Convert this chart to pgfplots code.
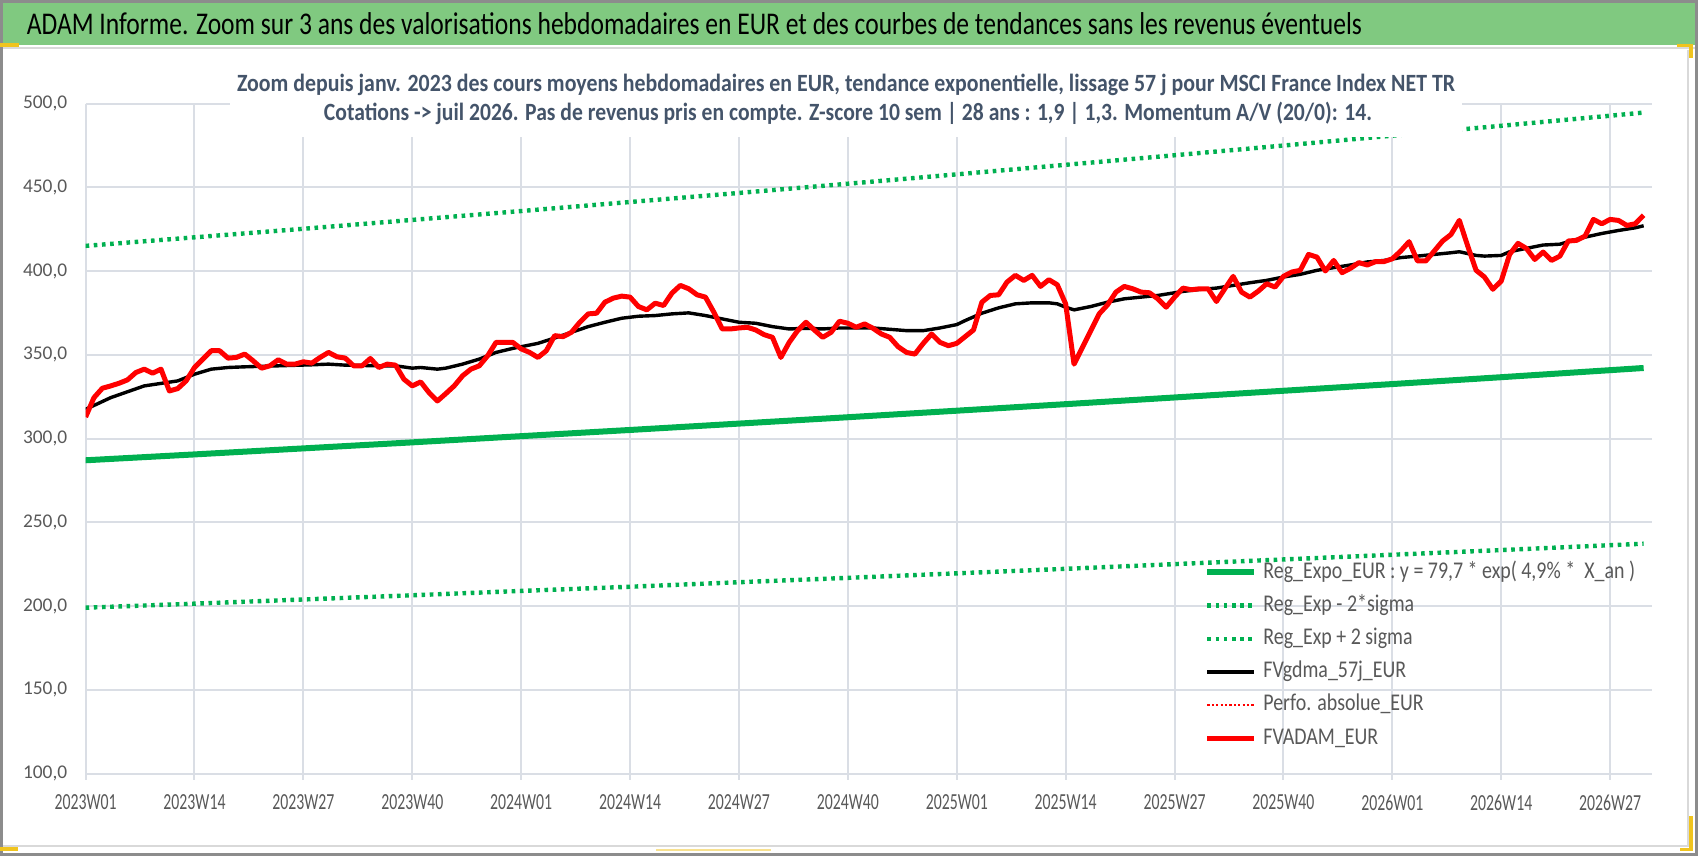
\documentclass[border=0pt]{standalone}
\usepackage{pgfplots}
\usepackage{pgfplotstable}
\pgfplotsset{compat=1.18}
\usepackage{fontspec}
\setmainfont{Carlito}
\usepackage{graphicx}
\definecolor{gridc}{RGB}{218,222,229}
\definecolor{tickc}{RGB}{89,89,89}
\definecolor{subc}{RGB}{68,84,106}
\definecolor{xlgreen}{RGB}{0,176,80}
\definecolor{barg}{RGB}{128,201,128}
\definecolor{framec}{RGB}{140,140,140}
\definecolor{lightc}{RGB}{217,217,217}
\definecolor{selc}{RGB}{240,196,30}

\pgfplotstableread{
x y
0 312.8
1 324.4
2 330
3 331.4
4 333
5 335
6 339.4
7 341.4
8 339
9 341.4
10 328.4
11 329.8
12 334.4
13 342.4
14 347.4
15 352.4
16 352.4
17 348
18 348.4
19 350.4
20 346.4
21 342
22 343.4
23 347
24 344.4
25 344.4
26 345.8
27 345
28 348.4
29 351.4
30 348.8
31 348
32 343.4
33 343.4
34 347.8
35 342.4
36 344.4
37 343.8
38 335.4
39 331.4
40 333.8
41 327.4
42 322.4
43 326.8
44 331.4
45 337.4
46 341.4
47 343.4
48 349.4
49 357.4
50 357.4
51 357.4
52 353.5
53 351.4
54 348.4
55 352.4
56 361.4
57 360.8
58 363.4
59 369.4
60 374.4
61 374.8
62 381.4
63 383.8
64 385
65 384.4
66 378.8
67 376.8
68 380.8
69 379.4
70 386.8
71 391.4
72 389.4
73 385.8
74 384.4
75 375.4
76 365.4
77 365.4
78 366
79 366.4
80 364.8
81 362
82 360.4
83 348.4
84 357.4
85 364.4
86 369.4
87 364.8
88 360.4
89 363.4
90 370
91 368.8
92 366.4
93 368.4
94 365.8
95 362.4
96 360.4
97 354.8
98 351.4
99 350.4
100 356.8
101 362.4
102 357.4
103 355.4
104 356.8
105 360.8
106 364.8
107 381.4
108 385.4
109 385.8
110 393.4
111 397.4
112 394.4
113 397.4
114 390.8
115 394.8
116 391.8
117 380.4
118 344.4
119 354.4
120 364.4
121 374.4
122 379.8
123 387.4
124 390.8
125 389.4
126 387.4
127 387
128 383.4
129 378.4
130 384.4
131 389.8
132 388.8
133 389.4
134 389.4
135 381.8
136 389.4
137 396.8
138 387.4
139 384.4
140 388
141 392.4
142 390.4
143 396.8
144 399.4
145 400.4
146 409.9
147 408.3
148 400
149 406.3
150 399
151 401.6
152 405
153 403.6
154 405.6
155 405.6
156 407.3
157 411.9
158 417.5
159 406
160 406
161 411.9
162 417.9
163 421.8
164 430.2
165 414.9
166 400.4
167 396.4
168 389.1
169 394
170 409.9
171 416.5
172 413.5
173 406.9
174 411.3
175 406.3
176 408.9
177 417.9
178 418.3
179 420.8
180 430.8
181 428.2
182 430.8
183 430.2
184 427.2
185 428.2
186 433.3
}\redtab

\pgfplotstableread{
x y
0 317.4
3 324.4
7 331.4
11 334.4
13 338.4
15 341.4
17 342.4
19 342.8
23 343.4
27 344
29 344.4
31 343.8
35 343.4
37 343.4
39 342
40 342.4
42 341.4
43 342
45 344.4
47 347.4
49 351.4
51 353.8
52 354.8
54 356.8
56 360
58 363.4
60 366.8
62 369.4
64 371.8
66 373
68 373.4
70 374.4
72 375
74 373.4
76 371.4
78 369.4
80 368.8
82 366.8
84 365.4
86 365.8
88 365.4
90 366
94 366
96 365.2
98 364.4
100 364.4
102 366
104 368
105 370.4
107 374.8
109 378
111 380.4
113 381
115 381
116 380.4
117 378.4
118 376.8
120 378.8
122 381.4
124 383.4
126 384.4
128 385.4
131 387.8
133 389
135 389.8
137 391.4
139 393
141 394.4
143 396.4
145 398
147 400.4
149 402
151 403.6
153 405.4
155 406.3
157 408
159 408.9
161 409.9
163 410.9
164 411.5
166 409.3
167 408.9
169 409.3
170 411.5
172 413.5
174 415.5
176 416
177 417.5
179 420.2
181 422.4
183 424.2
185 425.8
186 427
}\blacktab

\pgfplotstableread{
x y
0 287.0
13 290.5
26 294.1
39 297.7
52 301.4
65 305.1
78 308.9
91 312.7
104 316.6
117 320.5
130 324.5
143 328.5
156 332.5
169 336.6
182 340.8
186 342.1
}\regtab

\pgfplotstableread{
x y
0 199.0
13 201.4
26 203.9
39 206.4
52 209.0
65 211.5
78 214.2
91 216.8
104 219.5
117 222.2
130 225.0
143 227.8
156 230.6
169 233.4
182 236.3
186 237.2
}\lowtab

\pgfplotstableread{
x y
0 415.0
13 420.1
26 425.2
39 430.5
52 435.8
65 441.2
78 446.6
91 452.1
104 457.7
117 463.4
130 469.1
143 474.9
156 480.8
169 486.7
182 492.7
186 494.6
}\uptab

\newcommand\xl[1]{\resizebox{31pt}{\height}{#1}}
\newcommand\lgx[1]{\scalebox{0.83}[1]{#1}}

\begin{document}
\begin{tikzpicture}
\begin{scope}[x=0.5pt,y=-0.5pt]
\useasboundingbox (0,0) rectangle (1698,856);
\fill[white] (0,0) rectangle (1698,856);
\fill[barg] (3,3) rectangle (1695,45);
\draw[lightc, line width=1pt] (3,48) -- (1695,48);
\draw[lightc, line width=1pt] (1688,50) -- (1688,846) -- (3,846);
\draw[framec, line width=1.5pt] (1.5,1.5) rectangle (1696.5,854.5);
\fill[selc] (0,43) rectangle (19,47);
\fill[selc] (1677,44) rectangle (1693,47);
\fill[selc] (1689,44) rectangle (1693,58);
\fill[selc] (0,847) rectangle (18,851);
\fill[selc!50] (656,849) rectangle (771,851);
\fill[selc] (1689,816) rectangle (1693,851);
\fill[selc] (1680,848) rectangle (1693,851);
\node[anchor=base west, inner sep=0pt, font=\fontsize{15.8}{18}\selectfont, text=black] at (26.5,35)
  {\resizebox{667.5pt}{\height}{ADAM Informe. Zoom sur 3 ans des valorisations hebdomadaires en EUR et des courbes de tendances sans les revenus éventuels}};
\end{scope}

\begin{axis}[
  at={(42.8pt,-386.75pt)}, anchor=south west,
  width=783.2pt, height=335pt, scale only axis,
  xmin=0, xmax=187, ymin=100, ymax=500,
  axis line style={draw=none},
  grid=major,
  major grid style={gridc, line width=1pt},
  tick pos=left,
  tick align=outside,
  major tick length=3pt,
  xtick style={gridc, line width=1pt},
  ytick style={draw=none},
  xtick={0,13,...,182},
  xticklabels={\xl{2023W01},\xl{2023W14},\xl{2023W27},\xl{2023W40},\xl{2024W01},\xl{2024W14},\xl{2024W27},\xl{2024W40},\xl{2025W01},\xl{2025W14},\xl{2025W27},\xl{2025W40},\xl{2026W01},\xl{2026W14},\xl{2026W27}},
  ytick={100,150,...,500},
  yticklabels={{100,0},{150,0},{200,0},{250,0},{300,0},{350,0},{400,0},{450,0},{500,0}},
  xticklabel style={font=\fontsize{11.5}{13}\selectfont, text=tickc, inner sep=0pt, anchor=north, yshift=-7.5pt},
  yticklabel style={font=\fontsize{9.7}{11}\selectfont, text=tickc, inner sep=0pt, anchor=east, xshift=-6pt},
  legend image code/.code={\draw[#1] (0pt,0pt) -- (23.5pt,0pt);},
  legend cell align=left,
  legend style={at={(0.714,0.3254)}, anchor=north west, draw=none, fill=none, inner sep=0pt,
    row sep=0pt, font=\fontsize{12}{14}\selectfont, text=tickc,
    nodes={inner xsep=3pt, inner ysep=2.5pt, text height=8.6pt, text depth=3pt}},
]
\addplot[xlgreen, line width=3pt] table[x=x,y=y] {\regtab};
\addlegendentry{\lgx{Reg\_Expo\_EUR : y = 79,7 * exp( 4,9\% *~~X\_an )}}
\addplot[xlgreen, line width=2.2pt, dash pattern=on 1.8pt off 2.3pt] table[x=x,y=y] {\lowtab};
\addlegendentry{\lgx{Reg\_Exp - 2*sigma}}
\addplot[xlgreen, line width=2.2pt, dash pattern=on 1.8pt off 2.3pt] table[x=x,y=y] {\uptab};
\addlegendentry{\lgx{Reg\_Exp + 2 sigma}}
\addplot[black, line width=1.7pt, line join=round] table[x=x,y=y] {\blacktab};
\addlegendentry{\lgx{FVgdma\_57j\_EUR}}
\addlegendimage{red, line width=1.1pt, dash pattern=on 1.1pt off 1.1pt}
\addlegendentry{\lgx{Perfo. absolue\_EUR}}
\addplot[red, line width=2.5pt, line join=round] table[x=x,y=y] {\redtab};
\addlegendentry{\lgx{FVADAM\_EUR}}
\end{axis}

\begin{scope}[x=0.5pt,y=-0.5pt]
\fill[white] (230,60) rectangle (1462,137);
\node[anchor=base, inner sep=0pt, font=\fontsize{12.4}{14}\selectfont\bfseries, text=subc] at (846,92)
  {\resizebox{609pt}{\height}{Zoom depuis janv. 2023 des cours moyens hebdomadaires en EUR, tendance exponentielle, lissage 57 j pour MSCI France Index NET TR}};
\node[anchor=base, inner sep=0pt, font=\fontsize{12.4}{14}\selectfont\bfseries, text=subc] at (848,120.5)
  {\resizebox{524pt}{\height}{Cotations -> juil 2026. Pas de revenus pris en compte. Z-score 10 sem | 28 ans : 1,9 | 1,3. Momentum A/V (20/0): 14.}};
\end{scope}
\end{tikzpicture}
\end{document}
